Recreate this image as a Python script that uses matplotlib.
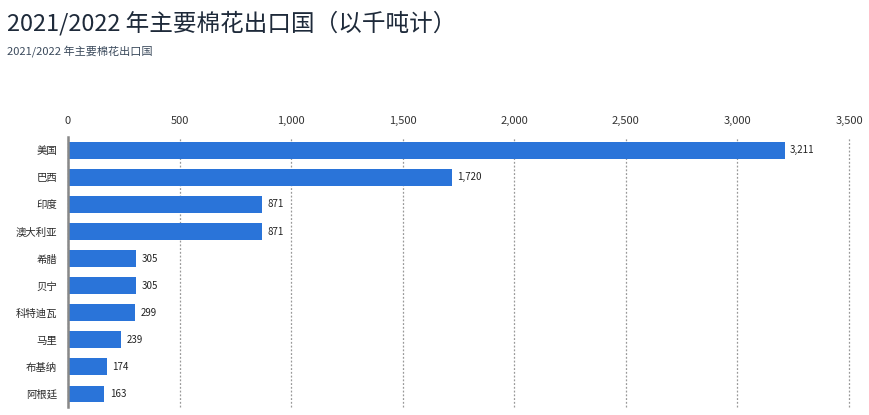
import matplotlib.pyplot as plt
import numpy as np

plt.rcParams['font.family'] = ['Noto Sans CJK SC', 'DejaVu Sans']

countries = ["美国", "巴西", "印度", "澳大利亚", "希腊", "贝宁", "科特迪瓦", "马里", "布基纳", "阿根廷"]
exports = [3211, 1720, 871, 871, 305, 305, 299, 239, 174, 163]
xticks = [0, 500, 1000, 1500, 2000, 2500, 3000, 3500]

title = "2021/2022 年主要棉花出口国（以千吨计）"
subtitle = "2021/2022 年主要棉花出口国"

fig = plt.figure(figsize=(8.69, 4.15), dpi=100)
ax = fig.add_axes([0.0783, 0.019, 0.8987, 0.651])

y = np.arange(len(countries))
ax.barh(y, exports, height=0.6, color='#2a74d9', zorder=3)
for yi, v in zip(y, exports):
    ax.text(v + 25, yi, f"{v:,}", va='center', ha='left', fontsize=7, color='#222222')

ax.set_xlim(0, 3500)
ax.set_ylim(len(countries) - 0.5, -0.5)
ax.set_yticks(y)
ax.set_yticklabels(countries, fontsize=7.5, color='#2a2a2a')
ax.set_xticks(xticks)
ax.set_xticklabels([f"{t:,}" for t in xticks], fontsize=8, color='#333333')
ax.xaxis.tick_top()
ax.tick_params(axis='x', length=0, pad=8)
ax.tick_params(axis='y', length=0, pad=8)
ax.grid(axis='x', linestyle=(0, (1.5, 1.5)), color='#999999', linewidth=0.9, zorder=0)
for gl in ax.get_xgridlines():
    gl.set_clip_on(False)

for s in ['top', 'right', 'bottom']:
    ax.spines[s].set_visible(False)
ax.spines['left'].set_color('#888888')
ax.spines['left'].set_linewidth(1.8)
ax.spines['left'].set_zorder(4)

fig.text(0.008, 0.945, title, fontsize=17, color='#1e2a3a', va='center', ha='left')
fig.text(0.008, 0.878, subtitle, fontsize=8, color='#3b4a5c', va='center', ha='left')

fig.savefig('out.png', dpi=100)
